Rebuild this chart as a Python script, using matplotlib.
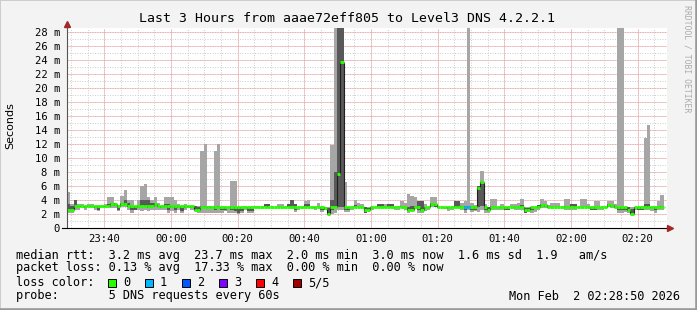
import numpy as np
import matplotlib
matplotlib.use('Agg')
import matplotlib.pyplot as plt
from matplotlib.patches import Rectangle
from matplotlib.lines import Line2D

plt.rcParams['font.family'] = ['DejaVu Sans Mono', 'DejaVu Sans']

W, H = 697, 310

# graph window: 3 hours ending 02:28:50, one sample per minute
start_hhmm = (23, 28, 50)
tick_labels = ['23:40', '00:00', '00:20', '00:40', '01:00', '01:20', '01:40', '02:00', '02:20']

# median rtt per minute (ms)
median = [
    2.5, 2.5, 3.1, 3.1, 3.1, 3.1, 3.1, 3.1, 3.1, 3.1, 3.1, 3.1, 3.1, 3.4, 3.4, 3.1, 3.4, 3.4, 3.1, 3.1,
    3.1, 3.1, 3.1, 3.1, 3.1, 3.1, 3.4, 3.1, 3.1, 3.1, 3.1, 3.1, 3.1, 3.1, 3.1, 3.1, 3.1, 3.1, 2.5, 2.5,
    3.0, 3.0, 3.0, 3.0, 3.0, 3.0, 3.0, 3.0, 3.0, 3.0, 3.0, 3.0, 3.0, 3.0, 3.0, 3.0, 3.0, 3.0, 3.0, 3.0,
    3.0, 3.0, 3.0, 3.0, 3.0, 3.0, 3.0, 3.0, 3.0, 3.0, 3.0, 3.0, 3.0, 3.0, 3.0, 3.0, 3.0, 2.8, 2.0, 3.0,
    3.0, 7.7, 23.7, 3.0, 3.0, 3.0, 3.0, 3.0, 3.0, 2.5, 2.5, 3.0, 3.0, 3.0, 3.0, 3.0, 3.0, 3.0, 3.0, 3.0,
    3.0, 3.0, 2.5, 2.5, 3.0, 3.0, 2.5, 3.0, 3.0, 3.4, 3.4, 3.0, 3.0, 3.0, 3.0, 3.0, 3.0, 3.0, 3.0, 3.0,
    3.0, 3.0, 3.0, 5.7, 6.6, 3.0, 2.5, 3.0, 3.0, 3.0, 3.0, 3.0, 3.0, 3.0, 3.0, 3.0, 3.0, 2.6, 2.6, 3.0,
    3.0, 3.0, 3.3, 3.3, 3.0, 3.0, 3.0, 3.0, 3.0, 3.0, 3.0, 3.0, 3.0, 3.0, 3.0, 3.0, 3.0, 3.0, 3.0, 3.0,
    3.0, 3.0, 3.3, 3.3, 3.0, 3.0, 3.0, 3.0, 2.6, 2.0, 3.0, 3.0, 3.0, 3.0, 3.0, 3.0, 3.0, 3.0, 3.0, np.nan,
]

# outer smoke (fastest .. slowest ping)
smoke_min = [
    2.2, 2.2, 2.5, 2.6, 3.0, 2.6, 3.0, 3.0, 2.5, 2.4, 3.0, 3.0, 3.0, 2.9, 2.9, 2.4, 3.0, 3.0, 2.6, 2.2,
    2.5, 2.6, 2.4, 2.6, 2.4, 2.6, 2.6, 2.5, 2.6, 2.6, 2.2, 2.4, 2.2, 2.6, 2.2, 2.6, 2.8, 2.6, 2.4, 2.2,
    2.2, 2.2, 2.2, 2.2, 2.2, 2.2, 2.2, 2.4, 2.2, 2.2, 2.2, 2.0, 2.2, 2.6, 2.2, 2.2, 2.8, 2.8, 3.0, 3.0,
    2.9, 3.0, 3.0, 3.0, 3.0, 2.9, 3.0, 2.7, 2.3, 2.5, 2.9, 3.0, 3.0, 2.8, 2.6, 3.0, 2.3, 2.6, 1.9, 2.0,
    2.2, 2.5, 2.5, 2.3, 2.3, 2.6, 3.0, 3.0, 2.8, 2.2, 2.4, 2.6, 2.8, 3.0, 2.8, 2.8, 3.0, 2.8, 2.6, 2.6,
    3.0, 2.6, 2.2, 2.4, 3.0, 2.2, 2.2, 2.4, 2.6, 3.0, 3.0, 2.8, 3.0, 2.7, 2.4, 2.6, 2.8, 2.8, 2.6, 2.2,
    2.5, 2.3, 2.4, 2.3, 2.5, 2.2, 2.2, 2.6, 2.6, 2.6, 2.5, 2.6, 2.6, 3.0, 2.6, 2.6, 2.6, 2.2, 2.3, 2.2,
    2.3, 2.6, 2.8, 2.8, 2.8, 3.0, 3.0, 3.0, 3.0, 2.6, 2.6, 2.6, 2.6, 2.8, 3.0, 3.0, 2.8, 2.6, 2.6, 2.6,
    2.6, 2.8, 3.0, 2.8, 2.8, 2.2, 2.2, 2.3, 2.2, 2.0, 2.5, 2.6, 2.6, 2.6, 2.6, 2.4, 2.2, 2.6, 2.6, np.nan,
]
smoke_max = [
    5.2, 3.4, 4.0, 3.4, 3.4, 3.1, 3.4, 3.4, 3.1, 3.1, 3.1, 3.4, 4.4, 4.4, 3.6, 3.1, 4.5, 5.4, 4.0, 4.0,
    3.1, 4.0, 6.0, 6.2, 4.4, 4.0, 4.4, 3.6, 3.1, 4.4, 4.4, 4.4, 4.0, 3.4, 3.1, 3.4, 3.2, 3.1, 3.1, 3.1,
    11.0, 12.0, 3.1, 3.1, 11.0, 12.0, 3.0, 3.0, 3.0, 6.7, 6.7, 3.0, 3.0, 3.1, 3.0, 3.0, 3.2, 3.1, 3.0, 3.4,
    3.4, 3.0, 3.0, 3.4, 3.4, 3.0, 3.4, 4.0, 3.4, 3.0, 3.0, 3.9, 4.0, 3.0, 3.0, 3.6, 3.0, 3.0, 3.0, 11.8,
    35.0, 35.0, 35.0, 6.6, 3.0, 3.0, 4.0, 3.5, 3.4, 3.0, 3.0, 3.0, 3.0, 3.4, 3.4, 3.4, 3.4, 3.4, 3.0, 3.1,
    3.8, 3.6, 4.9, 4.6, 4.4, 3.9, 3.9, 3.4, 3.0, 4.4, 4.4, 3.0, 3.0, 3.0, 3.0, 3.0, 3.9, 3.9, 3.6, 3.9,
    35.0, 3.6, 3.3, 6.0, 8.1, 3.4, 3.0, 4.2, 4.2, 3.0, 3.4, 3.0, 3.0, 3.4, 3.4, 3.6, 4.1, 3.0, 3.0, 3.0,
    3.0, 3.3, 4.1, 3.8, 3.3, 3.6, 3.6, 3.6, 3.0, 4.1, 4.1, 3.4, 3.4, 3.0, 4.1, 4.1, 3.4, 3.0, 3.8, 3.8,
    3.0, 3.0, 3.8, 3.8, 3.4, 35.0, 35.0, 3.0, 3.0, 3.0, 3.0, 3.0, 3.0, 12.8, 14.7, 3.0, 3.0, 3.9, 4.7, np.nan,
]

# inner smoke (2nd .. 4th ping)
core_min = [
    2.6, 2.6, 3.0, 3.0, 3.0, 2.9, 3.0, 3.0, 2.9, 2.6, 3.0, 3.0, 3.1, 3.1, 3.1, 2.6, 3.2, 3.3, 3.0, 2.6,
    2.6, 2.9, 3.1, 3.1, 2.9, 3.1, 3.1, 3.0, 2.9, 3.0, 2.6, 2.9, 2.6, 2.8, 2.4, 2.9, 3.0, 2.8, 2.5, 2.5,
    3.0, 3.0, 2.8, 2.9, 2.5, 3.0, 2.5, 2.6, 3.0, 2.5, 2.4, 2.2, 2.4, 3.0, 2.4, 2.4, 3.0, 3.0, 3.0, 3.0,
    3.0, 3.0, 3.0, 3.0, 3.0, 3.0, 3.0, 3.0, 2.6, 3.0, 3.0, 3.0, 3.0, 3.0, 2.8, 3.0, 2.6, 2.6, 2.0, 2.6,
    3.0, 3.0, 3.0, 2.6, 2.6, 3.0, 3.0, 3.0, 3.0, 2.2, 2.5, 2.7, 3.0, 3.0, 3.0, 3.0, 3.0, 3.0, 2.8, 3.0,
    3.0, 3.0, 2.6, 2.6, 3.0, 2.6, 2.5, 2.8, 3.0, 3.2, 3.0, 3.0, 3.0, 3.0, 2.7, 3.0, 3.0, 3.0, 3.0, 2.6,
    2.8, 2.6, 2.6, 3.0, 3.2, 2.5, 2.5, 3.0, 3.0, 3.0, 2.8, 2.6, 2.6, 3.0, 3.0, 3.0, 3.0, 2.2, 2.4, 2.6,
    3.0, 2.8, 3.0, 3.0, 3.0, 3.0, 3.0, 3.0, 3.0, 3.0, 3.0, 3.0, 3.0, 3.0, 3.0, 3.0, 3.0, 2.6, 2.6, 3.0,
    3.0, 3.0, 3.0, 3.0, 3.0, 2.6, 2.6, 2.5, 2.4, 2.2, 2.7, 2.6, 2.6, 3.0, 3.0, 2.8, 2.6, 3.0, 3.0, np.nan,
]
core_max = [
    3.4, 3.2, 4.0, 3.2, 3.1, 3.1, 3.2, 3.2, 3.1, 3.1, 3.1, 3.1, 3.4, 3.5, 3.5, 3.1, 3.5, 4.0, 3.6, 3.1,
    3.1, 3.1, 4.0, 4.0, 4.0, 3.6, 3.6, 3.1, 3.1, 3.4, 3.4, 3.1, 3.1, 3.1, 3.1, 3.1, 3.1, 3.1, 3.1, 3.0,
    3.1, 3.1, 3.0, 3.0, 3.0, 3.1, 3.0, 3.0, 3.0, 3.0, 3.0, 3.0, 3.0, 3.0, 3.0, 3.0, 3.0, 3.0, 3.0, 3.4,
    3.4, 3.0, 3.0, 3.0, 3.0, 3.0, 3.4, 4.0, 3.4, 3.0, 3.0, 3.4, 3.4, 3.0, 3.0, 3.0, 3.0, 3.0, 2.8, 4.0,
    8.0, 35.0, 35.0, 3.1, 3.0, 3.0, 3.3, 3.0, 3.0, 3.0, 2.9, 3.0, 3.0, 3.4, 3.4, 3.0, 3.4, 3.4, 3.0, 3.0,
    3.2, 3.0, 3.0, 3.1, 3.1, 3.9, 3.9, 3.0, 3.0, 3.6, 3.4, 3.0, 3.0, 3.0, 3.0, 3.0, 3.9, 3.9, 3.2, 3.2,
    3.1, 3.2, 3.0, 6.0, 6.6, 3.0, 3.0, 3.2, 3.0, 3.0, 3.0, 3.0, 3.0, 3.0, 3.0, 3.0, 3.3, 2.9, 2.9, 3.0,
    3.0, 3.3, 3.4, 3.3, 3.0, 3.0, 3.0, 3.0, 3.0, 3.2, 3.0, 3.4, 3.4, 3.0, 3.0, 3.0, 3.0, 3.0, 3.0, 3.0,
    3.0, 3.0, 3.4, 3.3, 3.0, 3.0, 3.0, 3.0, 3.0, 2.7, 3.0, 3.0, 3.0, 3.4, 3.4, 3.0, 3.0, 3.0, 3.2, np.nan,
]

# minutes where pings were lost (minute index -> lost pings)
loss_events = {119: 1, 120: 1}

loss_colors = ['#26ff00', '#00b8ff', '#0059ff', '#7e00ff', '#ff0000', '#a10000']
loss_names = ['0', '1', '2', '3', '4', '5/5']

legend_lines = [
    'median rtt:  3.2 ms avg  23.7 ms max  2.0 ms min  3.0 ms now  1.6 ms sd  1.9   am/s',
    'packet loss: 0.13 % avg  17.33 % max  0.00 % min  0.00 % now',
    'loss color:',
    'probe:       5 DNS requests every 60s',
]
stamp = 'Mon Feb  2 02:28:50 2026'


def to_offset(hhmm):
    h, m = map(int, hhmm.split(':'))
    t = h * 60 + m
    if h < 12:
        t += 1440
    return t - start_min


start_min = start_hhmm[0] * 60 + start_hhmm[1] + start_hhmm[2] / 60.0
n = len(median)
t = np.arange(n)
med = np.array(median)

fig = plt.figure(figsize=(W / 100, H / 100), dpi=100)
fig.patch.set_facecolor('#f3f3f3')
ax = fig.add_axes([67 / W, 82 / H, 600 / W, 200 / H])
ax.set_facecolor('white')
ax.set_xlim(0, 180)
ax.set_ylim(0, 28.5)

# grid
minor_x = [to_offset('%02d:%02d' % ((m // 60) % 24, m % 60)) for m in range(1410, 1590, 5)]
major_x = [to_offset(s) for s in tick_labels]
ax.vlines(minor_x, 0, 28.5, colors='#cfcfcf', linestyles=(0, (1, 1.5)), lw=0.72, zorder=0.5)
ax.hlines(np.arange(1, 29, 1), 0, 180, colors='#cfcfcf', linestyles=(0, (1, 1.5)), lw=0.72, zorder=0.5)
ax.vlines(major_x, 0, 28.5, colors='#f0a0a0', linestyles=(0, (1, 1)), lw=0.72, zorder=0.6)
ax.hlines(np.arange(2, 29, 2), 0, 180, colors='#f0a0a0', linestyles=(0, (1, 1)), lw=0.72, zorder=0.6)

# smoke
lo = np.array(smoke_min)
hi = np.array(smoke_max)
ax.bar(t, hi - lo, bottom=lo, width=1.0, align='edge', color='#a6a6a6', lw=0, zorder=2)
clo = np.array(core_min)
chi = np.array(core_max)
ax.bar(t, chi - clo, bottom=clo, width=1.0, align='edge', color='#595959', lw=0, zorder=3)

# median: thin connectors, then coloured segments by loss
for i in range(1, n):
    if np.isfinite(med[i]) and np.isfinite(med[i - 1]) and med[i] != med[i - 1]:
        ax.vlines(i, med[i - 1], med[i], colors='#202020', lw=0.8, zorder=4)
for i in range(n):
    if np.isfinite(med[i]):
        c = loss_colors[loss_events.get(i, 0)]
        ax.hlines(med[i], i, i + 1, colors=c, lw=2.1, zorder=5)

# axes with rrdtool style arrows
for s in ax.spines.values():
    s.set_visible(False)
ax.plot([0, 0], [0, 29.0], color='#555555', lw=0.8, clip_on=False, zorder=6)
ax.plot([-1.5, 180.6], [0, 0], color='black', lw=0.8, clip_on=False, zorder=6)
ax.plot([0], [29.1], marker='^', ms=4, color='#a02828', mec='#a02828', clip_on=False, zorder=7)
ax.plot([181.0], [0], marker='>', ms=4, color='#a02828', mec='#a02828', clip_on=False, zorder=7)

ax.set_yticks(np.arange(0, 29, 2))
ax.set_yticklabels(['0'] + ['%d m' % v for v in range(2, 29, 2)])
ax.set_xticks(major_x)
ax.set_xticklabels(tick_labels)
ax.tick_params(axis='both', labelsize=7.6, length=0)
ax.tick_params(axis='y', pad=5)
ax.tick_params(axis='x', pad=4)

fig.text(10 / W, 1 - 126 / H, 'Seconds', rotation=90, ha='center', va='center',
         fontsize=8, family='DejaVu Sans')
fig.text(347 / W, 1 - 19 / H, 'Last 3 Hours from aaae72eff805 to Level3 DNS 4.2.2.1',
         ha='center', va='center', fontsize=9.5)
fig.text(687 / W, 1 - 5 / H, 'RRDTOOL / TOBI OETIKER', rotation=270, ha='center', va='top',
         fontsize=5.9, color='#ababab')

rows = [255, 268, 283, 296]
for txt, y in zip(legend_lines, rows):
    fig.text(16 / W, 1 - y / H, txt, ha='left', va='center', fontsize=8.6)
fig.text(680 / W, 1 - 296 / H, stamp, ha='right', va='center', fontsize=8.6)

box_x = [108, 145, 182, 219, 256, 293]
label_x = [123, 160, 197, 234, 271, 308]
for c, name, bx, lx in zip(loss_colors, loss_names, box_x, label_x):
    fig.add_artist(Rectangle((bx / W, 1 - 287 / H), 8 / W, 8 / H, transform=fig.transFigure,
                             facecolor=c, edgecolor='black', lw=0.7))
    fig.text(lx / W, 1 - 283 / H, name, ha='left', va='center', fontsize=8.6)

# 3d frame
fig.add_artist(Line2D([0, 0], [0, 1], transform=fig.transFigure, color='#cccccc', lw=1.4))
fig.add_artist(Line2D([0, 1], [1, 1], transform=fig.transFigure, color='#cccccc', lw=1.4))
fig.add_artist(Line2D([1, 1], [0, 1], transform=fig.transFigure, color='#999999', lw=2.6))
fig.add_artist(Line2D([0, 1], [0, 0], transform=fig.transFigure, color='#999999', lw=2.6))

fig.savefig('out.png', dpi=100, facecolor=fig.get_facecolor())
